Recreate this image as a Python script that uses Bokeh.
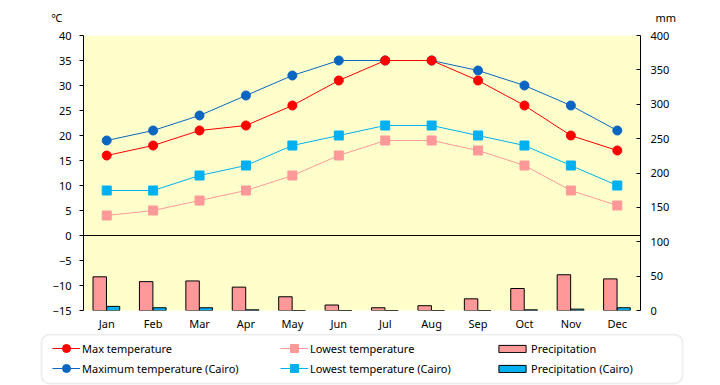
from bokeh.plotting import figure
from bokeh.layouts import column
from bokeh.models import (Range1d, LinearAxis, FixedTicker, Span, Legend, LegendItem,
                          BoxAnnotation, Label, FactorRange, ColumnDataSource)
from bokeh.transform import dodge
from bokeh.embed import file_html
from bokeh.resources import INLINE

months = ["Jan", "Feb", "Mar", "Apr", "May", "Jun", "Jul", "Aug", "Sep", "Oct", "Nov", "Dec"]
max_temp = [16, 18, 21, 22, 26, 31, 35, 35, 31, 26, 20, 17]
low_temp = [4, 5, 7, 9, 12, 16, 19, 19, 17, 14, 9, 6]
precip = [49, 42, 43, 34, 20, 8, 4, 7, 17, 32, 52, 46]
max_cairo = [19, 21, 24, 28, 32, 35, 35, 35, 33, 30, 26, 21]
low_cairo = [9, 9, 12, 14, 18, 20, 22, 22, 20, 18, 14, 10]
precip_cairo = [6, 4, 4, 1, 0, 0, 0, 0, 0, 1, 2, 4]
temp_ticks = [-15, -10, -5, 0, 5, 10, 15, 20, 25, 30, 35, 40]
mm_ticks = [0, 50, 100, 150, 200, 250, 300, 350, 400]

FONT = "Noto Sans"
FS = "11px"
RED, PINK, BLUE, CYAN = "#FF0000", "#FF9999", "#0A66C0", "#00B0F0"
W = 712

src = ColumnDataSource(dict(month=months, max_temp=max_temp, low_temp=low_temp, precip=precip,
                            max_cairo=max_cairo, low_cairo=low_cairo, precip_cairo=precip_cairo))


def blank(h):
    f = figure(width=W, height=h, x_range=Range1d(0, W), y_range=Range1d(h, 0),
               output_backend="svg", toolbar_location=None,
               x_axis_location=None, y_axis_location=None, frame_align=False,
               min_border=0, min_border_left=0, min_border_right=0,
               min_border_top=0, min_border_bottom=0)
    f.outline_line_color = None
    f.xgrid.visible = False
    f.ygrid.visible = False
    f.background_fill_color = "white"
    f.border_fill_color = "white"
    return f


# ---- top strip with unit labels
top = blank(27)
top.add_layout(Label(x=51, y=17, text="℃", text_baseline="middle", text_font=FONT,
                     text_font_size=FS, text_color="black"))
top.add_layout(Label(x=655, y=17, text="mm", text_baseline="middle", text_font=FONT,
                     text_font_size=FS, text_color="black"))

# ---- main chart
p = figure(x_range=FactorRange(*months), y_range=Range1d(-15, 40), width=W, height=306,
           output_backend="svg", toolbar_location=None, frame_align=False,
           min_border_left=83, min_border_right=72, min_border_top=8, min_border_bottom=23)
p.extra_y_ranges = {"mm": Range1d(0, 400)}
p.background_fill_color = "#FFFFCC"
p.border_fill_color = "white"
p.outline_line_color = None
p.xgrid.visible = False
p.ygrid.visible = False

ya = p.yaxis[0]
ya.ticker = FixedTicker(ticks=temp_ticks)
ya.axis_line_color = "black"
ya.major_tick_line_color = "black"
ya.major_tick_out = 4
ya.major_tick_in = 0
ya.minor_tick_line_color = None
ya.major_label_standoff = 8
ya.major_label_text_font = FONT
ya.major_label_text_font_size = FS
ya.major_label_text_color = "black"

ra = LinearAxis(y_range_name="mm", ticker=FixedTicker(ticks=mm_ticks))
ra.axis_line_color = "black"
ra.major_tick_line_color = "black"
ra.major_tick_out = 0
ra.major_tick_in = 4
ra.minor_tick_line_color = None
ra.major_label_standoff = 10
ra.major_label_text_font = FONT
ra.major_label_text_font_size = FS
ra.major_label_text_color = "black"
p.add_layout(ra, "right")

xa = p.xaxis[0]
xa.axis_line_color = None
xa.major_tick_line_color = None
xa.major_tick_out = 0
xa.major_tick_in = 0
xa.minor_tick_line_color = None
xa.major_label_standoff = 5
xa.major_label_text_font = FONT
xa.major_label_text_font_size = FS
xa.major_label_text_color = "black"

p.vbar(x=dodge("month", -0.15, range=p.x_range), top="precip", bottom=0, width=0.29,
       source=src, y_range_name="mm", fill_color=PINK, line_color="black", line_width=1)
p.vbar(x=dodge("month", 0.14, range=p.x_range), top="precip_cairo", bottom=0, width=0.28,
       source=src, y_range_name="mm", fill_color=CYAN, line_color="black", line_width=1)

p.add_layout(Span(location=0, dimension="width", line_color="black", line_width=1))

for col, color, marker in [("low_cairo", CYAN, "square"), ("low_temp", PINK, "square"),
                           ("max_cairo", BLUE, "circle"), ("max_temp", RED, "circle")]:
    p.line("month", col, source=src, line_color=color, line_width=1)
    p.scatter("month", col, source=src, marker=marker, size=9, fill_color=color, line_color=color)

# ---- legend strip (swatch renderers are hidden; they only supply the legend glyph styles)
leg = blank(52)
leg.add_layout(BoxAnnotation(left=41, right=682, top=1, bottom=50, fill_color=None, fill_alpha=0,
                             line_color="#C8C8C8", line_width=2, border_radius=8))


def entry(col, color, marker=None, bar=False):
    if bar:
        r = leg.vbar(x=col, top=col, width=1, source=src, fill_color=color,
                     line_color="black", line_width=1)
        r.visible = False
        return [r]
    r1 = leg.line(x=col, y=col, source=src, line_color=color, line_width=1)
    r2 = leg.scatter(x=col, y=col, source=src, marker=marker, fill_color=color, line_color=color)
    r1.visible = False
    r2.visible = False
    return [r1, r2]


def mk_legend(items, vx, gh, gw):
    lg = Legend(items=items, location=(vx, 7), orientation="vertical",
                glyph_width=gw, glyph_height=gh, label_height=20, label_standoff=2,
                spacing=0, padding=0, margin=0,
                border_line_alpha=0, background_fill_alpha=0, inactive_fill_alpha=0,
                label_text_font=FONT, label_text_font_size=FS, label_text_color="black")
    leg.add_layout(lg, "center")


mk_legend([LegendItem(label="Max temperature", renderers=entry("max_temp", RED, "circle")),
           LegendItem(label="Maximum temperature (Cairo)", renderers=entry("max_cairo", BLUE, "circle"))],
          52, 20, 28)
mk_legend([LegendItem(label="Lowest temperature", renderers=entry("low_temp", PINK, "square")),
           LegendItem(label="Lowest temperature (Cairo)", renderers=entry("low_cairo", CYAN, "square"))],
          280, 20, 28)
mk_legend([LegendItem(label="Precipitation", renderers=entry("precip", PINK, bar=True)),
           LegendItem(label="Precipitation (Cairo)", renderers=entry("precip_cairo", CYAN, bar=True))],
          495, 9, 34)

layout = column(top, p, leg, spacing=0)

open("out.html", "w").write(file_html(layout, INLINE))
